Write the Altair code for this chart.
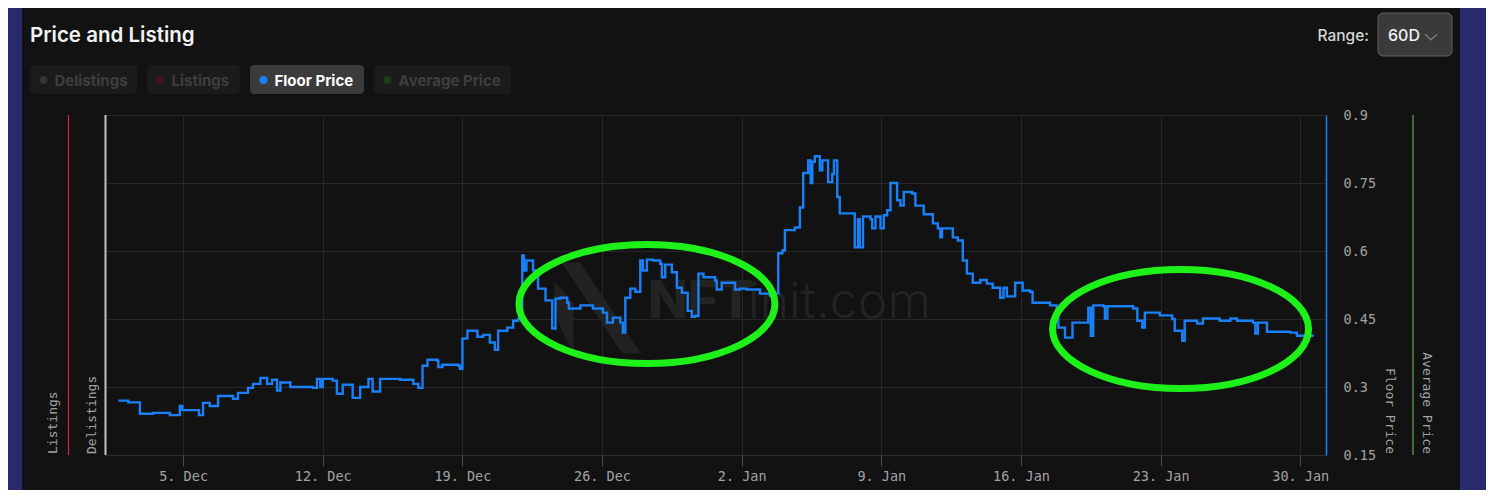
import altair as alt
import pandas as pd

# ---------------- data ----------------
floor_times = [
    "2021-12-01T18:00", "2021-12-02T06:00", "2021-12-02T20:00", "2021-12-03T12:00",
    "2021-12-04T08:00", "2021-12-04T20:00", "2021-12-04T23:00", "2021-12-05T18:00",
    "2021-12-05T19:00", "2021-12-06T00:00", "2021-12-06T08:00", "2021-12-06T18:00",
    "2021-12-07T12:00", "2021-12-07T18:00", "2021-12-08T06:00", "2021-12-08T12:00",
    "2021-12-08T21:00", "2021-12-09T05:00", "2021-12-09T11:00", "2021-12-09T17:00",
    "2021-12-09T21:00", "2021-12-10T09:00", "2021-12-11T12:00", "2021-12-11T17:00",
    "2021-12-11T21:00", "2021-12-12T00:00", "2021-12-12T12:00", "2021-12-12T17:00",
    "2021-12-13T00:00", "2021-12-13T12:00", "2021-12-13T21:00", "2021-12-14T05:00",
    "2021-12-14T07:00", "2021-12-14T12:00", "2021-12-14T21:00", "2021-12-15T21:00",
    "2021-12-16T13:00", "2021-12-16T19:00", "2021-12-17T00:00", "2021-12-17T06:00",
    "2021-12-17T18:00", "2021-12-17T19:00", "2021-12-18T00:00", "2021-12-18T19:00",
    "2021-12-18T21:00", "2021-12-19T00:00", "2021-12-19T06:00", "2021-12-19T18:00",
    "2021-12-20T01:00", "2021-12-20T09:00", "2021-12-20T15:00", "2021-12-20T19:00",
    "2021-12-21T06:00", "2021-12-21T13:00", "2021-12-21T19:00", "2021-12-21T22:00",
    "2021-12-22T00:00", "2021-12-22T02:00", "2021-12-22T05:00", "2021-12-22T09:00",
    "2021-12-22T13:00", "2021-12-22T19:00", "2021-12-23T04:00", "2021-12-23T12:00",
    "2021-12-23T16:00", "2021-12-23T22:00", "2021-12-24T06:00", "2021-12-24T08:00",
    "2021-12-24T22:00", "2021-12-25T13:00", "2021-12-26T01:00", "2021-12-26T06:00",
    "2021-12-26T13:00", "2021-12-26T22:00", "2021-12-27T01:00", "2021-12-27T04:00",
    "2021-12-27T10:00", "2021-12-27T16:00", "2021-12-27T22:00", "2021-12-28T01:00",
    "2021-12-28T06:00", "2021-12-28T13:00", "2021-12-28T22:00", "2021-12-29T00:00",
    "2021-12-29T04:00", "2021-12-29T12:00", "2021-12-29T18:00", "2021-12-30T00:00",
    "2021-12-30T07:00", "2021-12-30T12:00", "2021-12-30T16:00", "2021-12-30T20:00",
    "2021-12-31T02:00", "2021-12-31T16:00", "2021-12-31T18:00", "2022-01-01T00:00",
    "2022-01-01T14:00", "2022-01-01T16:00", "2022-01-01T22:00", "2022-01-02T06:00",
    "2022-01-02T22:00", "2022-01-03T10:00", "2022-01-03T14:00", "2022-01-03T20:00",
    "2022-01-04T01:00", "2022-01-04T04:00", "2022-01-04T16:00", "2022-01-04T22:00",
    "2022-01-05T02:00", "2022-01-05T08:00", "2022-01-05T11:00", "2022-01-05T13:00",
    "2022-01-05T16:00", "2022-01-05T22:00", "2022-01-06T01:00", "2022-01-06T07:00",
    "2022-01-06T08:00", "2022-01-06T13:00", "2022-01-06T15:00", "2022-01-06T19:00",
    "2022-01-06T22:00", "2022-01-07T10:00", "2022-01-07T16:00", "2022-01-07T20:00",
    "2022-01-07T22:00", "2022-01-08T02:00", "2022-01-08T11:00", "2022-01-08T13:00",
    "2022-01-08T17:00", "2022-01-08T23:00", "2022-01-09T03:00", "2022-01-09T07:00",
    "2022-01-09T11:00", "2022-01-09T14:00", "2022-01-09T19:00", "2022-01-09T23:00",
    "2022-01-10T03:00", "2022-01-10T13:00", "2022-01-10T17:00", "2022-01-11T01:00",
    "2022-01-11T03:00", "2022-01-11T11:00", "2022-01-11T14:00", "2022-01-11T20:00",
    "2022-01-11T23:00", "2022-01-12T01:00", "2022-01-12T11:00", "2022-01-12T14:00",
    "2022-01-12T20:00", "2022-01-13T02:00", "2022-01-13T07:00", "2022-01-13T14:00",
    "2022-01-13T23:00", "2022-01-14T07:00", "2022-01-14T14:00", "2022-01-14T23:00",
    "2022-01-15T03:00", "2022-01-15T07:00", "2022-01-15T17:00", "2022-01-16T02:00",
    "2022-01-16T11:00", "2022-01-16T14:00", "2022-01-17T11:00", "2022-01-17T19:00",
    "2022-01-17T21:00", "2022-01-18T05:00", "2022-01-18T11:00", "2022-01-18T14:00",
    "2022-01-18T20:00", "2022-01-19T09:00", "2022-01-19T12:00", "2022-01-19T15:00",
    "2022-01-20T03:00", "2022-01-20T05:00", "2022-01-20T08:00", "2022-01-21T15:00",
    "2022-01-21T20:00", "2022-01-22T02:00", "2022-01-22T05:00", "2022-01-22T23:00",
    "2022-01-23T14:00", "2022-01-23T17:00", "2022-01-24T02:00", "2022-01-24T05:00",
    "2022-01-24T20:00", "2022-01-25T03:00", "2022-01-25T23:00", "2022-01-26T12:00",
    "2022-01-26T20:00", "2022-01-27T15:00", "2022-01-27T18:00", "2022-01-27T21:00",
    "2022-01-28T03:00", "2022-01-28T08:00", "2022-01-29T12:00", "2022-01-29T20:00",
    "2022-01-30T15:00",
]
floor_values = [
    0.270, 0.266, 0.241, 0.243,
    0.238, 0.258, 0.249, 0.249,
    0.238, 0.265, 0.258, 0.280,
    0.274, 0.287, 0.298, 0.307,
    0.320, 0.307, 0.316, 0.292,
    0.310, 0.300, 0.298, 0.318,
    0.300, 0.318, 0.314, 0.285,
    0.305, 0.276, 0.300, 0.300,
    0.318, 0.290, 0.318, 0.316,
    0.307, 0.298, 0.347, 0.360,
    0.358, 0.344, 0.349, 0.347,
    0.340, 0.407, 0.424, 0.411,
    0.415, 0.398, 0.382, 0.424,
    0.431, 0.446, 0.450, 0.468,
    0.590, 0.557, 0.579, 0.579,
    0.557, 0.517, 0.491, 0.429,
    0.495, 0.497, 0.486, 0.473,
    0.480, 0.473, 0.464, 0.442,
    0.453, 0.442, 0.420, 0.497,
    0.517, 0.510, 0.579, 0.557,
    0.581, 0.579, 0.572, 0.542,
    0.570, 0.553, 0.519, 0.508,
    0.468, 0.455, 0.457, 0.550,
    0.542, 0.535, 0.515, 0.530,
    0.530, 0.515, 0.517, 0.515,
    0.506, 0.502, 0.506, 0.595,
    0.601, 0.646, 0.652, 0.696,
    0.772, 0.800, 0.750, 0.797,
    0.809, 0.778, 0.800, 0.800,
    0.752, 0.770, 0.800, 0.719,
    0.683, 0.683, 0.608, 0.670,
    0.608, 0.676, 0.670, 0.650,
    0.676, 0.650, 0.679, 0.690,
    0.750, 0.750, 0.712, 0.700,
    0.730, 0.727, 0.700, 0.700,
    0.681, 0.681, 0.661, 0.650,
    0.630, 0.650, 0.650, 0.630,
    0.623, 0.579, 0.550, 0.530,
    0.536, 0.528, 0.519, 0.497,
    0.519, 0.500, 0.530, 0.513,
    0.510, 0.486, 0.480, 0.462,
    0.431, 0.409, 0.409, 0.442,
    0.442, 0.475, 0.413, 0.480,
    0.478, 0.451, 0.478, 0.473,
    0.446, 0.431, 0.464, 0.458,
    0.450, 0.424, 0.402, 0.446,
    0.440, 0.451, 0.446, 0.451,
    0.446, 0.442, 0.418, 0.442,
    0.442, 0.422, 0.420, 0.413,
    0.411,
]

# annotation ellipses (centres in data space)
ellipse_times = ["2021-12-28T06:00", "2022-01-24T00:00"]
ellipse_values = [0.483, 0.428]

y_ticks = [0.15, 0.3, 0.45, 0.6, 0.75, 0.9]
buttons = ["Delistings", "Listings", "Floor Price", "Average Price"]
axis_titles_left = ["Listings", "Delistings"]
axis_titles_right = ["Floor Price", "Average Price"]

floor_df = pd.DataFrame({"t": floor_times, "v": floor_values})
ell_df = pd.DataFrame({"t": ellipse_times, "v": ellipse_values})
one = pd.DataFrame({"a": [0]})

# ---------------- styling ----------------
W, H = 1221, 340
MONO = "DejaVu Sans Mono"
SANS = "Inter"
BLUE = "#1a80f8"
GRAY_TXT = "#a3a3a3"

x_dom = [alt.DateTime(year=2021, month=12, date=1, hours=2),
         alt.DateTime(year=2022, month=1, date=31, hours=7)]
x_scale = alt.Scale(domain=x_dom)
y_scale = alt.Scale(domain=[0.15, 0.9], nice=False, zero=False)


def txt(s, x, y, **kw):
    return alt.Chart(one).mark_text(text=s, **kw).encode(x=alt.value(x), y=alt.value(y))


def box(x1, x2, y1, y2, **kw):
    return alt.Chart(one).mark_rect(**kw).encode(
        x=alt.value(x1), x2=alt.value(x2), y=alt.value(y1), y2=alt.value(y2))


def vrule(x, color, width=1.0):
    return alt.Chart(one).mark_rule(color=color, strokeWidth=width).encode(
        x=alt.value(x), y=alt.value(0), y2=alt.value(H))


def sym(shape, x, y, size, **kw):
    return alt.Chart(one).mark_point(shape=shape, size=size, **kw).encode(
        x=alt.value(x), y=alt.value(y))


layers = []

# outer navy frame strips
layers.append(box(-97, -83, -107, 375, color="#292a6d"))
layers.append(box(1355, 1381, -107, 375, color="#292a6d"))

# watermark
logo = ("M -0.8 -0.95 L -0.42 -0.95 L 0.85 0.95 L 0.47 0.95 Z "
        "M -0.95 -0.55 Q -1.0 0.3 -0.55 0.9 L -0.55 -0.1 Z")
layers.append(sym(logo, 495, 193, 9216, filled=True, color="#222222", opacity=1))
layers.append(txt("NFT", 543, 203, font=SANS, fontSize=52, fontWeight=800,
                  color="#232323", align="left", baseline="alphabetic"))
layers.append(txt("init.com", 643, 203, font=SANS, fontSize=50, fontWeight=300,
                  color="#232323", align="left", baseline="alphabetic"))

# main floor price line
line = alt.Chart(floor_df).mark_line(color=BLUE, strokeWidth=2.4,
                                     interpolate="step-after").encode(
    x=alt.X("t:T", scale=x_scale,
            axis=alt.Axis(title=None, format="%-d. %b",
                          tickCount={"interval": "week", "step": 1},
                          labelFont=MONO, labelFontSize=13.5, labelColor=GRAY_TXT,
                          tickColor="#484860", tickSize=11, labelPadding=3,
                          domainColor="#2e2e2e", gridColor="#25252c",
                          labelOverlap=False, labelFlush=False)),
    y=alt.Y("v:Q", scale=y_scale,
            axis=alt.Axis(title=None, orient="right", values=y_ticks, format=".2~f",
                          ticks=False, labelPadding=17, labelFont=MONO,
                          labelFontSize=13.5, labelColor=GRAY_TXT,
                          domainColor=BLUE, domainWidth=1.5, gridColor="#262626")),
)
layers.append(line)

# green annotation ellipses
ell_shape = "M -1 0 A 1 0.465 0 1 1 1 0 A 1 0.465 0 1 1 -1 0 Z"
ellipses = alt.Chart(ell_df).mark_point(
    shape=ell_shape, size=65536, filled=False, color="#1ef01a",
    strokeWidth=7, opacity=1).encode(
    x=alt.X("t:T", scale=x_scale), y=alt.Y("v:Q", scale=y_scale))
layers.append(ellipses)

# extra (empty) axes drawn as rules + rotated titles
layers.append(vrule(-36.5, "#d8213d", 1.2))
layers.append(vrule(0.5, "#c4c4c4", 2))
layers.append(vrule(1308, "#6aa85a", 1.2))
layers.append(txt(axis_titles_left[0], -52, H - 1, angle=270, align="left", baseline="middle",
                  font=MONO, fontSize=13, color=GRAY_TXT))
layers.append(txt(axis_titles_left[1], -13, H - 1, angle=270, align="left", baseline="middle",
                  font=MONO, fontSize=13, color=GRAY_TXT))
layers.append(txt(axis_titles_right[0], 1285, H - 1, angle=90, align="right", baseline="middle",
                  font=MONO, fontSize=13, color=GRAY_TXT))
layers.append(txt(axis_titles_right[1], 1322, H - 1, angle=90, align="right", baseline="middle",
                  font=MONO, fontSize=13, color=GRAY_TXT))

# header: title
layers.append(txt("Price and Listing", -75, -79, font=SANS, fontSize=20.5, fontWeight=600,
                  color="#f2f2f2", align="left", baseline="middle"))

# header: toggle buttons
btn_x = [(-75, 32), (42, 135), (145, 259), (269, 406)]
dot_colors = ["#343434", "#3f1519", BLUE, "#1e3a20"]
active = [False, False, True, False]
for (bx1, bx2), label, dc, act in zip(btn_x, buttons, dot_colors, active):
    layers.append(box(bx1, bx2, -50, -21, color="#3b3b3b" if act else "#1b1b1b",
                      cornerRadius=4))
    layers.append(sym("circle", bx1 + 13.5, -35, 64, filled=True, color=dc, opacity=1))
    layers.append(txt(label, bx1 + 24.5, -34.5, font=SANS, fontSize=15, fontWeight=700,
                      color="#ffffff" if act else "#3e3e3e", align="left", baseline="middle"))

# header: range selector
layers.append(txt("Range:", 1264, -79, font=SANS, fontSize=15.5, fontWeight=500,
                  color="#d4d4d4", align="right", baseline="middle"))
layers.append(box(1273, 1347, -102, -59, color="#3a3a3a", stroke="#5e5e5e",
                  strokeWidth=1, cornerRadius=5))
layers.append(txt("60D", 1283, -79, font=SANS, fontSize=16, fontWeight=500,
                  color="#f2f2f2", align="left", baseline="middle"))
layers.append(sym("M -1 -0.45 L 0 0.45 L 1 -0.45", 1326, -78, 144, filled=False,
                  color="#7a7a7a", strokeWidth=1.5, opacity=1))

chart = alt.layer(*layers).properties(
    width=W, height=H,
    padding={"left": 97, "top": 107, "right": 160, "bottom": 35},
    autosize=alt.AutoSizeParams(type="none"),
    background="#121212",
).configure_view(stroke=None)

chart.save("out.html", embed_options={"renderer": "svg", "actions": False})
